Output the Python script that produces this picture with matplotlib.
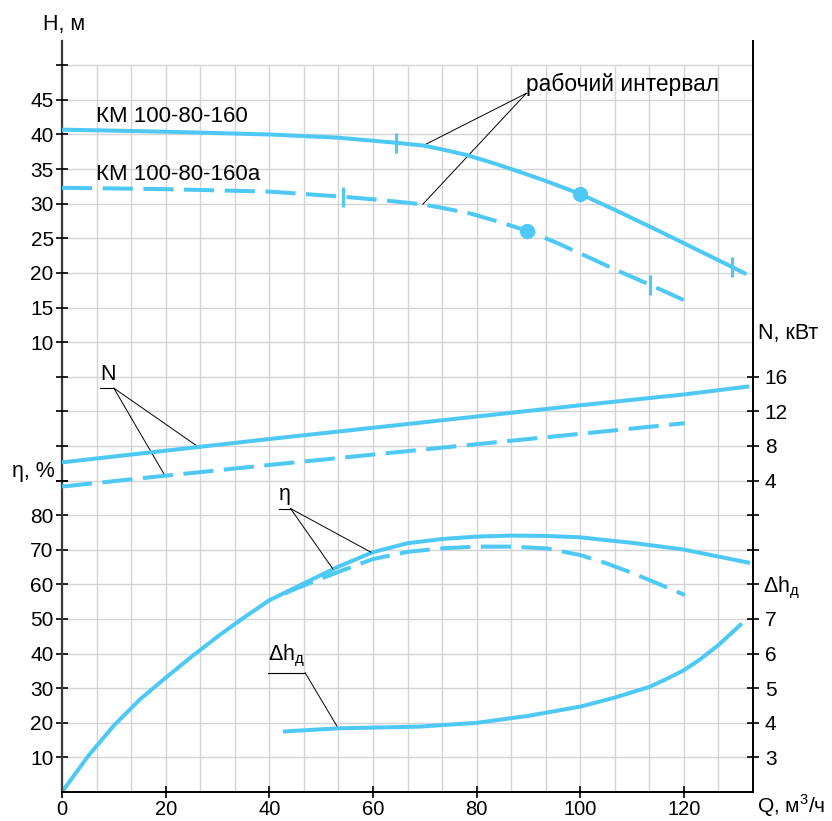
import numpy as np
import matplotlib
matplotlib.use("Agg")
import matplotlib.pyplot as plt

plt.rcParams['font.family'] = ['Liberation Sans', 'DejaVu Sans']
plt.rcParams['mathtext.fontset'] = 'custom'
plt.rcParams['mathtext.rm'] = 'Liberation Sans'

# ---- data (Q in m3/h) ----
# head H, m
q_h160 = [0, 20, 40, 53, 60, 64.5, 69.7, 73.3, 78, 83.3, 88.3, 93.3, 100, 106.7, 113.4, 120.5, 129.2, 131.7]
h_160 = [40.7, 40.4, 40.0, 39.55, 39.1, 38.8, 38.4, 37.85, 37.05, 35.85, 34.6, 33.3, 31.4, 29.1, 26.7, 24.1, 20.9, 19.95]
q_h160a = [0, 20, 40, 54.3, 62, 69.6, 74, 78.7, 84, 89.7, 95, 101.2, 107, 113.4, 120.2]
h_160a = [32.3, 32.1, 31.75, 31.0, 30.5, 29.9, 29.3, 28.6, 27.45, 26.1, 24.5, 22.4, 20.4, 18.3, 16.0]

# working interval limits and duty points
work_q160 = [64.5, 129.2]
work_h160 = [38.8, 20.9]
work_q160a = [54.3, 113.4]
work_h160a = [31.0, 18.3]
duty_q = [100, 89.7]
duty_h = [31.4, 26.1]

# power N, kW
q_n160 = [0, 20, 40, 60, 80, 100, 120, 132.2]
n_160 = [6.1, 7.45, 8.8, 10.1, 11.4, 12.7, 13.95, 14.85]
q_n160a = [0, 20, 40, 60, 80, 100, 120.2]
n_160a = [3.3, 4.56, 5.8, 7.0, 8.2, 9.4, 10.63]

# efficiency eta, %
q_eta160 = [0, 5, 10, 15, 20, 25, 30, 35, 40, 46.7, 53.3, 60, 66.7, 73.3, 80, 86.7, 93.3, 99.9, 110, 119.8, 132.4]
eta_160 = [0, 10.3, 19.2, 26.7, 33.0, 39.1, 44.9, 50.3, 55.4, 60.3, 65.1, 69.3, 71.9, 73.1, 73.8, 74.1, 74.0, 73.6, 72.0, 70.1, 66.3]
q_eta160a = [43, 45.2, 53.3, 60, 66.7, 73.3, 80, 86.7, 93.5, 99.9, 105, 110.2, 115, 120.2]
eta_160a = [57.4, 58.8, 63.6, 67.3, 69.4, 70.4, 70.9, 70.9, 70.4, 68.5, 66.1, 63.2, 60.2, 56.9]

# NPSH dh, m
q_dh = [43, 53.3, 69, 80.1, 90, 100.1, 106.7, 113.4, 116.7, 120, 123.3, 126.7, 130.9]
dh = [3.75, 3.84, 3.89, 4.0, 4.2, 4.47, 4.73, 5.04, 5.27, 5.52, 5.85, 6.25, 6.83]

# tick values
q_ticks = [0, 20, 40, 60, 80, 100, 120]
eta_ticks = [10, 20, 30, 40, 50, 60, 70, 80, 90]
h_ticks = [-10, -5, 0, 5, 10, 15, 20, 25, 30, 35, 40, 45, 50]
n_ticks = [0, 4, 8, 12, 16]
dh_ticks = [3, 4, 5, 6, 7, 8, 9]

BLUE = '#4ec9f5'
LW = 2.9
DASH = (7.5, 2.6)
TICK_FS = 15

# base axes carries eta; the other scales are twins with shifted limits
Y_TOP = 217.1
fig = plt.figure(figsize=(8.32, 8.21), dpi=100)
ax = fig.add_axes([62 / 832, 1 - 792 / 821, (753 - 62) / 832, (792 - 40.7) / 821])
ax.set_xlim(0, 400 / 3)
ax.set_ylim(0, Y_TOP)

ax_h = ax.twinx()
ax_h.set_ylim((0 - 110) / 2, (Y_TOP - 110) / 2)
ax_n = ax.twinx()
ax_n.set_ylim((0 - 80) / 2.5, (Y_TOP - 80) / 2.5)
ax_dh = ax.twinx()
ax_dh.set_ylim((0 + 20) / 10, (Y_TOP + 20) / 10)

# square grid, stops at the last row
for x in np.arange(0, 133.4, 20 / 3):
    ax.vlines(x, 0, 210, color='#d4d4d4', lw=1.0, zorder=0)
for y in np.arange(10, 211, 10):
    ax.hlines(y, 0, 400 / 3, color='#d4d4d4', lw=1.0, zorder=0)

for a in (ax_h, ax_n, ax_dh):
    for s in a.spines.values():
        s.set_visible(False)
    a.set_xlim(0, 400 / 3)
ax.spines['top'].set_visible(False)
ax.spines['left'].set_color('#3a3a3a')
ax.spines['left'].set_linewidth(1.6)
ax.spines['right'].set_linewidth(1.4)
ax.spines['bottom'].set_linewidth(1.4)

tick_kw = dict(direction='inout', length=9, width=1.2, labelsize=TICK_FS)
ax.set_xticks(q_ticks)
ax.tick_params(axis='x', pad=1.5, **tick_kw)
ax.tick_params(axis='x', labelsize=14.5)
ax.set_yticks(eta_ticks, labels=[str(t) if t <= 80 else '' for t in eta_ticks])
ax.tick_params(axis='y', pad=1.5, **tick_kw)

ax_h.yaxis.tick_left()
ax_h.set_yticks(h_ticks, labels=[str(t) if 10 <= t <= 45 else '' for t in h_ticks])
ax_h.tick_params(axis='y', pad=1.5, **tick_kw)

ax_n.set_yticks(n_ticks, labels=[str(t) if t > 0 else '' for t in n_ticks])
ax_n.tick_params(axis='y', pad=4, **tick_kw)
ax_dh.set_yticks(dh_ticks, labels=[str(t) if t <= 7 else '' for t in dh_ticks])
ax_dh.tick_params(axis='y', pad=4, **tick_kw)

# curves
ax_h.plot(q_h160, h_160, color=BLUE, lw=LW)
ax_h.plot(q_h160a, h_160a, color=BLUE, lw=LW, dashes=DASH)
ax_h.plot(work_q160, work_h160, ls='none', marker='|', ms=14, mew=2.2, color=BLUE)
ax_h.plot(work_q160a, work_h160a, ls='none', marker='|', ms=14, mew=2.2, color=BLUE)
ax_h.plot(duty_q, duty_h, ls='none', marker='o', ms=10, color=BLUE)

ax_n.plot(q_n160, n_160, color=BLUE, lw=LW)
ax_n.plot(q_n160a, n_160a, color=BLUE, lw=LW, dashes=DASH)

ax.plot(q_eta160, eta_160, color=BLUE, lw=LW)
ax.plot(q_eta160a, eta_160a, color=BLUE, lw=LW, dashes=DASH)

ax_dh.plot(q_dh, dh, color=BLUE, lw=LW)

# curve names
ax.text(6.6, 193.7, 'КМ 100-80-160', fontsize=16, va='baseline')
ax.text(6.6, 176.9, 'КМ 100-80-160а', fontsize=16, va='baseline')

leader = dict(arrowstyle='-', lw=0.7, color='k', shrinkA=0, shrinkB=0)

# "рабочий интервал"
ax.text(89.6, 202.6, 'рабочий интервал', fontsize=16.4, va='baseline')
for t in [(69.7, 38.4), (69.6, 29.9)]:
    ax.annotate('', xy=t, xycoords=ax_h.transData, xytext=(89.6, 201.9),
                textcoords='data', arrowprops=leader)


def underlined(label, x0, x1, y, targets, axis):
    ax.text(x0, y + 0.9, label, fontsize=15.5, va='bottom', ha='left')
    ax.plot([x0, x1], [y, y], color='k', lw=0.8)
    for t in targets:
        ax.annotate('', xy=t, xycoords=axis.transData, xytext=(x1, y),
                    textcoords='data', arrowprops=leader)


underlined('N', 7.3, 10.0, 116.7, [(26.4, 7.85), (19.9, 4.53)], ax_n)
underlined('η', 41.85, 44.1, 81.9, [(59.6, 69.3), (52.3, 64.4)], ax)
underlined('Δh$_{\\mathregular{д}}$', 39.7, 46.9, 34.5, [(53.3, 3.84)], ax_dh)

# axis titles
fig.text(42.7 / 832, 1 - 30 / 821, 'H, м', fontsize=15.5, va='baseline')
fig.text(12 / 832, 1 - 477 / 821, 'η, %', fontsize=15.5, va='baseline')
fig.text(758 / 832, 1 - 339 / 821, 'N, кВт', fontsize=15.5, va='baseline')
fig.text(763 / 832, 1 - 592.7 / 821, 'Δh$_{\\mathregular{д}}$', fontsize=15.5, va='baseline')
fig.text(757 / 832, 1 - 813 / 821, 'Q, м$^{\\mathregular{3}}$/ч', fontsize=15, va='baseline')

fig.savefig('out.png', dpi=100)
